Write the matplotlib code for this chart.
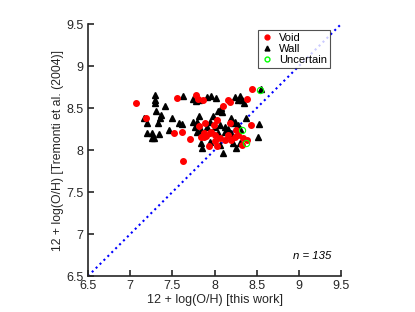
import matplotlib
matplotlib.use("Agg")
import matplotlib.pyplot as plt
from matplotlib.lines import Line2D

plt.rcParams['font.family'] = ['Liberation Sans', 'DejaVu Sans']

void_x = [7.07, 7.19, 7.55, 7.78, 7.80, 7.86, 8.16, 8.18, 8.10, 8.44, 8.39, 7.52, 7.61, 7.71,
          7.63, 8.43, 8.03, 7.82, 7.89, 7.99, 8.18, 7.87, 7.95, 8.01, 8.07, 8.12, 8.20, 8.28,
          8.34, 8.38, 8.32, 8.03, 7.93, 7.88, 8.01, 7.90, 7.96, 8.24, 8.16, 8.26, 7.84]
void_y = [8.56, 8.38, 8.62, 8.65, 8.61, 8.60, 8.60, 8.57, 8.53, 8.73, 8.61, 8.20, 8.21, 8.13,
          7.87, 8.30, 8.36, 8.29, 8.32, 8.30, 8.32, 8.20, 8.20, 8.18, 8.14, 8.12, 8.12, 8.18,
          8.14, 8.12, 8.06, 8.05, 8.05, 8.16, 8.11, 8.17, 8.22, 8.16, 8.18, 8.24, 8.16]

wall_x = [8.55, 7.30, 7.30, 7.29, 7.41, 7.63, 7.75, 7.78, 7.82, 7.91, 7.96, 8.02, 8.24, 8.30,
          8.32, 8.35, 8.28, 8.08, 8.09, 7.31, 7.16, 7.37, 7.35, 7.33, 7.20, 7.50, 7.58, 7.46,
          7.20, 7.26, 7.26, 7.28, 7.34, 7.74, 7.81, 7.79, 7.77, 7.84, 7.91, 7.95, 8.07, 8.12,
          8.16, 8.22, 8.28, 8.37, 8.30, 8.52, 8.53, 7.85, 8.10, 8.26, 7.84, 7.95, 8.04, 8.20,
          8.01, 8.20, 8.24, 7.79, 7.98, 8.12, 8.22, 8.07, 8.30, 7.61, 8.04]
wall_y = [8.73, 8.65, 8.60, 8.56, 8.52, 8.64, 8.61, 8.58, 8.60, 8.63, 8.64, 8.62, 8.63, 8.64,
          8.60, 8.56, 8.60, 8.50, 8.45, 8.46, 8.38, 8.42, 8.38, 8.32, 8.32, 8.38, 8.32, 8.24,
          8.20, 8.20, 8.14, 8.14, 8.19, 8.34, 8.40, 8.34, 8.28, 8.24, 8.28, 8.34, 8.30, 8.28,
          8.25, 8.32, 8.30, 8.38, 8.25, 8.16, 8.31, 8.02, 7.97, 8.02, 8.08, 8.10, 8.20, 8.20,
          8.28, 8.38, 8.34, 8.22, 8.40, 8.22, 8.08, 8.06, 8.08, 8.31, 8.46]

unc_x = [8.54, 8.32, 8.37]
unc_y = [8.71, 8.24, 8.09]

axis_lim = [6.5, 9.5]
ticks = [6.5, 7, 7.5, 8, 8.5, 9, 9.5]
tick_labels = ['6.5', '7', '7.5', '8', '8.5', '9', '9.5']
n_text = 'n = 135'

fig = plt.figure(figsize=(4.15, 3.12), dpi=100)
ax = fig.add_axes([0.212, 0.115, 0.610, 0.808])

ax.plot(axis_lim, axis_lim, linestyle=':', color=(0, 0, 1), linewidth=1.5, zorder=1)
ax.plot(wall_x, wall_y, linestyle='none', marker='^', color='black', markersize=4, zorder=2)
ax.plot(void_x, void_y, linestyle='none', marker='o', color=(1, 0, 0), markersize=4, zorder=3)
ax.plot(unc_x, unc_y, linestyle='none', marker='o', markerfacecolor='none',
        markeredgecolor=(0, 1, 0), markeredgewidth=0.8, markersize=4.5, zorder=4)

ax.set_xlim(axis_lim)
ax.set_ylim(axis_lim)
ax.set_xticks(ticks)
ax.set_xticklabels(tick_labels)
ax.set_yticks(ticks)
ax.set_yticklabels(tick_labels)
for s in ['top', 'right']:
    ax.spines[s].set_visible(False)
for s in ['left', 'bottom']:
    ax.spines[s].set_color('#262626')
    ax.spines[s].set_linewidth(1.2)
ax.tick_params(direction='in', length=4, width=1.2, color='#262626', labelcolor='#262626',
               labelsize=9, pad=3)
ax.set_xlabel('12 + log(O/H) [this work]', fontsize=9, color='#262626', labelpad=1)
ax.set_ylabel('12 + log(O/H) [Tremonti et al. (2004)]', fontsize=8.8, color='#262626', labelpad=2)

ax.text(9.39, 6.74, n_text, fontsize=8.2, style='italic', ha='right', va='center', color='black')

handles = [
    Line2D([], [], linestyle='none', marker='o', color=(1, 0, 0), markersize=3.5),
    Line2D([], [], linestyle='none', marker='^', color='black', markersize=3.5),
    Line2D([], [], linestyle='none', marker='o', markerfacecolor='none',
           markeredgecolor=(0, 1, 0), markersize=3.5),
]
leg = ax.legend(handles, ['Void', 'Wall', 'Uncertain'], loc='upper left',
                bbox_to_anchor=(0.670, 0.975), fontsize=8, frameon=True, fancybox=False,
                edgecolor='#262626', handlelength=1.2, handletextpad=0.5, borderpad=0.25,
                labelspacing=0.1, borderaxespad=0)
leg.get_frame().set_linewidth(0.8)

fig.savefig('out.png', dpi=100)
